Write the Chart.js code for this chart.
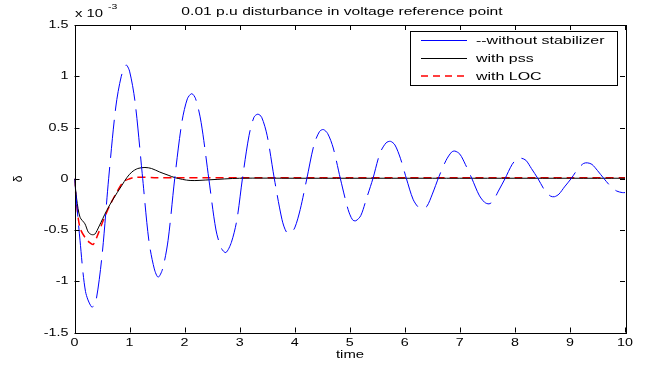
<!DOCTYPE html>
<html>
<head>
<meta charset="utf-8">
<title>0.01 p.u disturbance in voltage reference point</title>
<script src="https://cdn.jsdelivr.net/npm/chart.js@4/dist/chart.umd.min.js"></script>
<style>
  html, body { margin: 0; padding: 0; background: #fff; }
  canvas { display: block; }
</style>
</head>
<body>
<canvas id="chart" width="645" height="367"></canvas>
<script>
// delta response (x 10^-3)

const titleText = "0.01 p.u disturbance in voltage reference point";
const xTicks = [0, 1, 2, 3, 4, 5, 6, 7, 8, 9, 10];
const yTicks = [-1.5, -1, -0.5, 0, 0.5, 1, 1.5];

const noStabT = [0, 0.1, 0.2, 0.31, 0.38, 0.5, 0.62, 0.75, 0.85, 0.935, 1.0, 1.1, 1.23, 1.35, 1.45, 1.52, 1.6, 1.7, 1.82, 1.95,
  2.05, 2.13, 2.2, 2.3, 2.44, 2.57, 2.67, 2.75, 2.85, 2.95, 3.05, 3.17, 3.26, 3.33, 3.4, 3.5, 3.63, 3.77, 3.85, 3.92,
  4.0, 4.1, 4.22, 4.35, 4.45, 4.52, 4.6, 4.7, 4.83, 4.97, 5.05, 5.11, 5.2, 5.3, 5.42, 5.55, 5.66, 5.74, 5.82, 5.92,
  6.03, 6.15, 6.25, 6.32, 6.4, 6.5, 6.62, 6.75, 6.85, 6.91, 7.0, 7.1, 7.22, 7.35, 7.45, 7.53, 7.6, 7.7, 7.82, 7.95,
  8.05, 8.12, 8.2, 8.3, 8.42, 8.55, 8.65, 8.72, 8.8, 8.9, 9.02, 9.15, 9.25, 9.32, 9.4, 9.5, 9.62, 9.75, 9.85, 9.95, 10];
const noStabV = [0, -0.6, -1.1, -1.25, -1.22, -0.75, 0.0, 0.7, 1.0, 1.11, 1.05, 0.75, 0.05, -0.6, -0.88, -0.96, -0.88, -0.6, 0.0, 0.55,
  0.78, 0.83, 0.78, 0.55, 0.0, -0.5, -0.68, -0.72, -0.62, -0.4, 0.0, 0.42, 0.6, 0.63, 0.6, 0.42, 0.0, -0.4, -0.52, -0.53,
  -0.48, -0.3, 0.0, 0.33, 0.46, 0.48, 0.44, 0.3, 0.0, -0.3, -0.4, -0.41, -0.36, -0.2, 0.0, 0.25, 0.35, 0.365, 0.33, 0.2,
  0.0, -0.2, -0.28, -0.29, -0.27, -0.15, 0.02, 0.18, 0.26, 0.27, 0.24, 0.14, 0.0, -0.16, -0.23, -0.245, -0.22, -0.12, 0.0, 0.14,
  0.2, 0.2, 0.18, 0.1, 0.0, -0.12, -0.17, -0.175, -0.15, -0.08, 0.0, 0.1, 0.15, 0.155, 0.14, 0.08, 0.0, -0.08, -0.12, -0.135, -0.135];

const pssT = [0, 0.04, 0.1, 0.19, 0.25, 0.31, 0.37, 0.45, 0.585, 0.7, 0.86, 0.95, 1.04, 1.15, 1.28, 1.4, 1.55, 1.7, 1.83, 2.1, 2.46, 3.0, 4.0, 5.0, 6.0, 7.0, 8.0, 9.0, 10];
const pssV = [0, -0.2, -0.375, -0.44, -0.52, -0.545, -0.54, -0.46, -0.31, -0.2, -0.065, 0.01, 0.065, 0.1, 0.11, 0.1, 0.065, 0.035, 0.01, -0.017, -0.01, 0.005, 0.005, 0.005, 0.005, 0.005, 0.005, 0.005, 0.005];

const locT = [0, 0.04, 0.1, 0.2, 0.27, 0.34, 0.42, 0.52, 0.65, 0.78, 0.89, 1.0, 1.1, 1.5, 2.0, 3.0, 4.0, 5.0, 6.0, 7.0, 8.0, 9.0, 10];
const locV = [0, -0.25, -0.48, -0.58, -0.62, -0.64, -0.55, -0.41, -0.25, -0.12, -0.03, 0.0, 0.015, 0.01, 0.01, 0.01, 0.01, 0.01, 0.01, 0.01, 0.01, 0.01, 0.01];

const pts = (t, v) => t.map((x, i) => ({ x: x, y: v[i] }));

const font = "Liberation Sans, Arial, sans-serif";

// the original figure's text is wider than it is tall
function stretched(ctx, str, x, y, align, sx, size) {
  ctx.save();
  ctx.translate(x, y);
  ctx.scale(sx, 1);
  ctx.font = size + "px " + font;
  ctx.textAlign = align;
  ctx.textBaseline = "middle";
  ctx.fillStyle = "#000";
  ctx.fillText(str, 0, 0);
  ctx.restore();
}

const frame = {
  id: "frame",
  afterDatasetsDraw(chart) {
    const ctx = chart.ctx;
    const a = chart.chartArea;
    const xs = chart.scales.x;
    const ys = chart.scales.y;

    ctx.save();
    ctx.strokeStyle = "#000";
    ctx.lineWidth = 1;
    ctx.strokeRect(Math.round(a.left) + 0.5, Math.round(a.top) + 0.5,
      Math.round(a.right - a.left), Math.round(a.bottom - a.top));

    // inward ticks on all four sides
    ctx.beginPath();
    for (const t of xTicks) {
      const px = Math.round(xs.getPixelForValue(t)) + 0.5;
      ctx.moveTo(px, a.bottom); ctx.lineTo(px, a.bottom - 5);
      ctx.moveTo(px, a.top); ctx.lineTo(px, a.top + 5);
    }
    for (const t of yTicks) {
      const py = Math.round(ys.getPixelForValue(t)) + 0.5;
      ctx.moveTo(a.left, py); ctx.lineTo(a.left + 5, py);
      ctx.moveTo(a.right, py); ctx.lineTo(a.right - 5, py);
    }
    ctx.stroke();

    // tick labels
    for (const t of xTicks) {
      stretched(ctx, String(t), xs.getPixelForValue(t), a.bottom + 10, "center", 1.3, 11);
    }
    for (const t of yTicks) {
      stretched(ctx, String(t), a.left - 6, ys.getPixelForValue(t), "right", 1.3, 11);
    }

    // title, exponent, axis labels
    stretched(ctx, titleText, 342, 12, "center", 1.42, 11);
    stretched(ctx, "x 10", 75, 14, "left", 1.35, 11);
    stretched(ctx, "-3", 108, 7, "left", 1.3, 8);
    stretched(ctx, "time", 350, 355, "center", 1.35, 11);
    ctx.save();
    ctx.translate(19, 179);
    ctx.rotate(-Math.PI / 2);
    stretched(ctx, "δ", 0, 0, "center", 1, 12);
    ctx.restore();

    // legend box
    const lx = 410.5, ly = 31.5, lw = 207, lh = 54;
    ctx.fillStyle = "#fff";
    ctx.fillRect(lx, ly, lw, lh);
    ctx.strokeStyle = "#000";
    ctx.lineWidth = 1;
    ctx.strokeRect(lx, ly, lw, lh);
    const rows = [40.5, 58.5, 76];
    chart.data.datasets.forEach((ds, i) => {
      ctx.beginPath();
      ctx.strokeStyle = ds.borderColor;
      ctx.lineWidth = ds.borderWidth;
      ctx.setLineDash(i === 2 ? [7, 5] : []);
      ctx.moveTo(421, rows[i]);
      ctx.lineTo(467, rows[i]);
      ctx.stroke();
      ctx.setLineDash([]);
      stretched(ctx, ds.label, 476, rows[i] + 0.5, "left", 1.45, 11);
    });
    ctx.restore();
  }
};

new Chart(document.getElementById("chart"), {
  type: "line",
  data: {
    datasets: [
      {
        label: "--without stabilizer",
        data: pts(noStabT, noStabV),
        borderColor: "#0000ff",
        borderWidth: 1,
        borderDash: [38, 9],
        pointRadius: 0,
        tension: 0.3
      },
      {
        label: "with pss",
        data: pts(pssT, pssV),
        borderColor: "#000000",
        borderWidth: 1,
        pointRadius: 0,
        tension: 0.3
      },
      {
        label: "with LOC",
        data: pts(locT, locV),
        borderColor: "#ff0000",
        borderWidth: 1.5,
        borderDash: [8, 5],
        pointRadius: 0,
        tension: 0.3
      }
    ]
  },
  options: {
    responsive: false,
    animation: false,
    devicePixelRatio: 1,
    layout: { padding: { top: 25, right: 20, left: 0, bottom: 0 } },
    plugins: {
      legend: { display: false },
      tooltip: { enabled: false }
    },
    scales: {
      x: {
        type: "linear",
        min: 0,
        max: 10,
        afterBuildTicks: s => { s.ticks = xTicks.map(v => ({ value: v })); },
        afterFit: s => { s.height = 34.5; },
        grid: { display: false, drawTicks: false },
        border: { display: false },
        ticks: { display: false }
      },
      y: {
        min: -1.5,
        max: 1.5,
        afterBuildTicks: s => { s.ticks = yTicks.map(v => ({ value: v })); },
        afterFit: s => { s.width = 74.5; },
        grid: { display: false, drawTicks: false },
        border: { display: false },
        ticks: { display: false }
      }
    }
  },
  plugins: [frame]
});
</script>
</body>
</html>
